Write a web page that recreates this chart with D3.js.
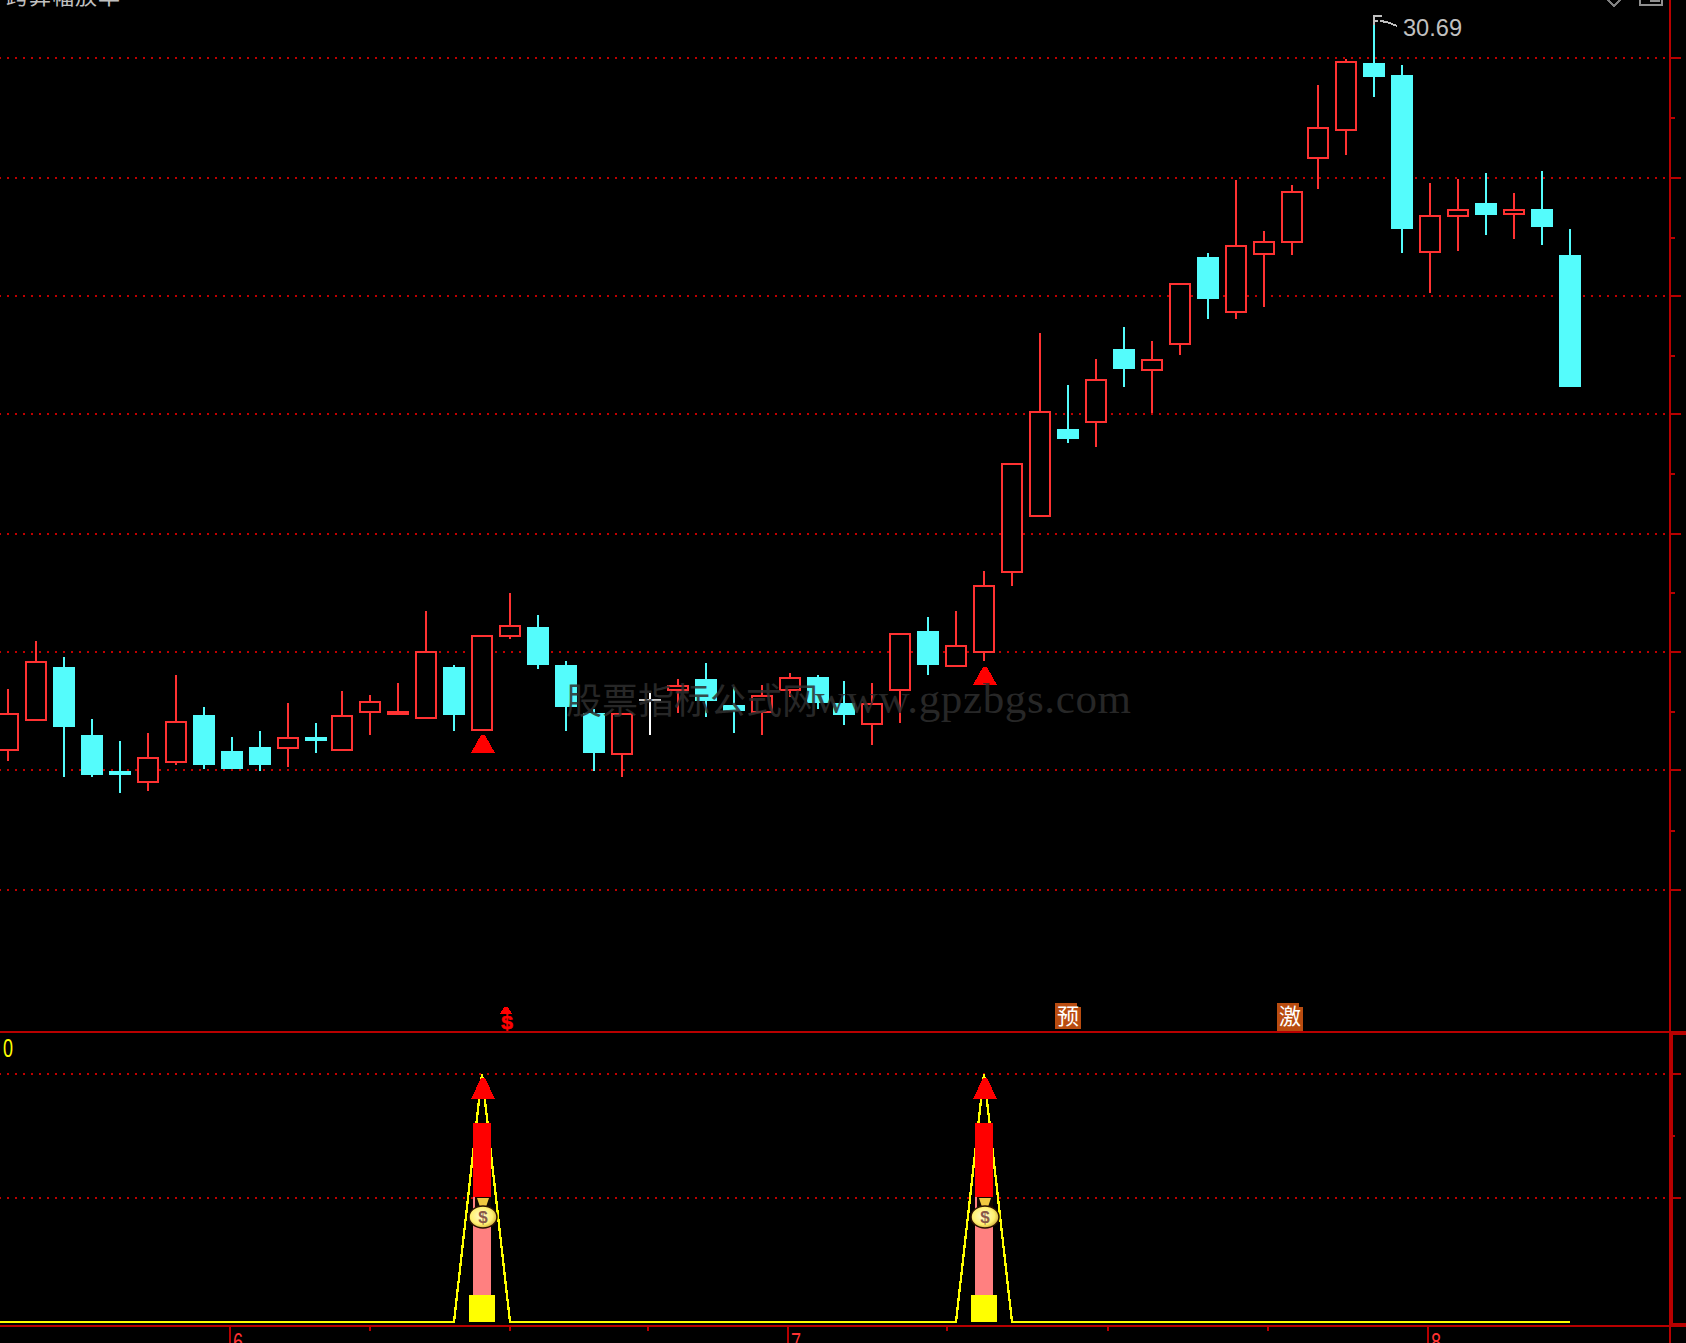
<!DOCTYPE html>
<html><head><meta charset="utf-8">
<script src="https://cdn.jsdelivr.net/npm/d3@7/dist/d3.min.js"></script>
<style>html,body{margin:0;padding:0;background:#000;overflow:hidden}svg{display:block}</style>
</head><body><div id="chart"></div>
<script>
// ---- data ----
const opens =[18.34,18.84,19.75,18.61,18.00,17.80,18.14,18.94,18.34,18.41,18.37,18.57,18.34,18.98,18.94,18.88,19.75,18.68,20.26,20.42,19.79,18.98,18.27,19.21,19.35,19.55,19.11,18.98,19.35,19.58,19.15,18.78,19.35,20.36,19.75,19.99,21.33,22.28,23.76,23.86,25.10,24.73,25.17,26.65,25.71,26.68,26.89,28.30,28.77,29.92,29.71,26.72,27.32,27.56,27.36,27.46,26.68];
const closes=[18.98,19.85,18.74,17.93,17.93,18.24,18.84,18.10,18.04,18.10,18.57,18.51,18.94,19.18,19.01,20.02,18.94,20.29,20.46,19.79,19.08,18.31,18.98,19.18,19.45,19.18,19.01,19.28,19.58,19.15,18.94,19.15,20.32,19.79,20.12,21.13,23.18,24.06,23.59,24.60,24.77,24.93,26.21,25.94,26.85,26.92,27.76,28.84,29.95,29.68,27.12,27.36,27.46,27.36,27.46,27.16,24.46];
const highs =[19.38,20.19,19.92,18.88,18.51,18.64,19.62,19.08,18.57,18.68,19.15,18.81,19.35,19.28,19.48,20.69,19.79,20.29,21.00,20.63,19.85,19.05,18.98,19.31,19.55,19.82,19.42,19.45,19.65,19.62,19.52,19.48,20.32,20.59,20.69,21.37,23.18,25.37,24.50,24.93,25.47,25.24,26.21,26.72,27.95,27.09,27.86,29.55,29.98,30.69,29.88,27.90,27.96,28.06,27.73,28.10,27.12];
const lows  =[18.17,18.84,17.90,17.90,17.63,17.67,18.10,18.04,18.04,18.00,18.07,18.31,18.34,18.61,18.94,18.88,18.68,18.68,20.22,19.72,18.68,18.00,17.90,18.61,18.98,18.91,18.64,18.61,19.25,19.05,18.78,18.44,18.81,19.62,19.75,19.85,21.12,22.28,23.52,23.45,24.46,24.03,25.00,25.61,25.61,25.81,26.68,27.80,28.37,29.34,26.72,26.05,26.75,27.02,26.95,26.85,24.46];
const dojiIndex = [23];
const priceGrid = [30,27.98,26,24.01,21.99,20,18.02,16];
const priceMinor = [28.99,26.97,24.99,23,21,19,17];
const buyIndex = [17,35];
const buyPrice = [18.61,19.75];
const indicatorStart = -1;
const indicator = [0,0,0,0,0,0,0,0,0,0,0,0,0,0,0,0,0,0,2,0,0,0,0,0,0,0,0,0,0,0,0,0,0,0,0,0,2,0,0,0,0,0,0,0,0,0,0,0,0,0,0,0,0,0,0,0,0,0];
const indGrid = [2,1];
const indMinor = [1.5];
const yellowTop = 0.22, pinkTop = 1.01, redTop = 1.605, bagLevel = 0.85, arrowTop = 1.97, arrowBase = 1.80;
const monthTicks = [7.93,27.93,50.93];
const monthLabels = ["6","7","8"];
const dayTicks = [13,18,22.93,33.68,39.43,45.14];
const badgeIndex = [38,46];
const badgeText = ["预","激"];
const title = "跨算幅放率";
const peakLabel = "30.69";
const indLabel = "0";
const watermarkCn = "股票指标公式网";
const watermarkEn = "www.gpzbgs.com";

// ---- colours ----
const RED="#ff3232", CYAN="#54fcfc", FRAME="#b80000", DOT="#c00000", GREY="#c0c0c0";

const W=1686,H=1343;
const svg=d3.select("#chart").append("svg").attr("width",W).attr("height",H).style("background","#000");
const crisp=s=>s.attr("shape-rendering","crispEdges");

const x=d3.scaleLinear().domain([0,11,12,29,30,46,47,56]).range([8,316,342,818,844,1292,1318,1570]);
const y=d3.scaleLinear().domain([16,30]).range([890,58]);
const yInd=d3.scaleLinear().domain([0,2]).range([1322,1074]);
const Y=v=>Math.round(y(v));
const YI=v=>Math.round(yInd(v));

// ---- grid ----
function dots(vals,scale){
  crisp(svg.append("g").selectAll("line").data(vals).join("line")
    .attr("x1",-1).attr("x2",1667).attr("y1",d=>Math.round(scale(d))).attr("y2",d=>Math.round(scale(d)))
    .attr("stroke",DOT).attr("stroke-width",2).attr("stroke-dasharray","2 6"));
}
dots(priceGrid,y);
dots(indGrid,yInd);

// ---- right axes ----
function rightAxis(vals,scale,len){
  const ax=d3.axisRight(scale).tickValues(vals).tickSize(len).tickSizeOuter(0).tickFormat("").offset(0);
  const g=svg.append("g").attr("transform","translate(1671,0)").call(ax);
  g.select(".domain").remove();
  g.selectAll(".tick").attr("transform",d=>`translate(0,${Math.round(scale(d))})`);
  crisp(g.selectAll("line").attr("stroke",FRAME).attr("stroke-width",2));
}
rightAxis(priceGrid,y,10);
rightAxis(priceMinor,y,4);
rightAxis(indGrid,yInd,10);
rightAxis(indMinor,yInd,4);

// ---- frame ----
function frame(x0,y0,w,h){crisp(svg.append("rect").attr("x",x0).attr("y",y0).attr("width",w).attr("height",h).attr("fill",FRAME));}
frame(1669,0,2,H);
frame(0,1031,W,2);
frame(1669,1031,W-1669,4);
frame(1669,1031,4,296);
frame(0,1325,W,2);
frame(1669,1323,W-1669,4);

// ---- time axis ----
function timeAxis(vals,len,fmt){
  const ax=d3.axisBottom(x).tickValues(vals).tickSize(len).tickSizeOuter(0).offset(0).tickFormat(fmt);
  const g=svg.append("g").attr("transform","translate(0,1327)").call(ax);
  g.select(".domain").remove();
  crisp(g.selectAll("line").attr("stroke",FRAME).attr("stroke-width",2));
  return g;
}
timeAxis(dayTicks,4,"");
const tg=timeAxis(monthTicks,16,(d,i)=>monthLabels[i]);
tg.selectAll("text").attr("y",0).attr("dy",0)
  .attr("transform","translate(8,24)")
  .attr("text-anchor","middle").attr("fill",RED)
  .attr("font-family","Liberation Sans").attr("font-size",25)
  .attr("textLength",10).attr("lengthAdjust","spacingAndGlyphs");

// ---- candles ----
const idx=d3.range(opens.length);
const up=i=>closes[i]>=opens[i];
const colour=i=>dojiIndex.includes(i)?"#fff":up(i)?RED:CYAN;
const wicks=svg.append("g");
crisp(wicks.selectAll("rect").data(idx).join("rect")
  .attr("x",i=>x(i)-1).attr("width",2)
  .attr("y",i=>Y(highs[i])).attr("height",i=>Y(lows[i])-Y(highs[i]))
  .attr("fill",colour));
const bodies=svg.append("g");
crisp(bodies.selectAll("rect").data(idx).join("rect")
  .attr("x",i=>x(i)-(up(i)?10:11)).attr("width",i=>up(i)?20:22)
  .attr("y",i=>{const t=Y(Math.max(opens[i],closes[i]));return up(i)?t+1:t;})
  .attr("height",i=>{const h=Y(Math.min(opens[i],closes[i]))-Y(Math.max(opens[i],closes[i]));return up(i)?Math.max(h-2,1):h;})
  .attr("fill",i=>dojiIndex.includes(i)?GREY:up(i)?"#000":CYAN)
  .attr("stroke",i=>dojiIndex.includes(i)?"none":up(i)?RED:"none")
  .attr("stroke-width",2));

// ---- buy arrows on price pane ----
function tri(cx,top,base,half){
  const p=d3.path();p.moveTo(cx-2,top);p.lineTo(cx+2,top);p.lineTo(cx+half,base);p.lineTo(cx-half,base);p.closePath();return p.toString();
}
crisp(svg.append("g").selectAll("path").data(buyIndex).join("path")
  .attr("d",(d,k)=>tri(x(d)+1,Y(buyPrice[k]),Y(buyPrice[k])+18,12)).attr("fill","#ff0000"));

// ---- flag and peak label ----
const pk=highs.indexOf(d3.max(highs));
const fx=x(pk);
const flag=svg.append("g").attr("stroke",GREY).attr("fill","none").attr("stroke-width",2);
crisp(flag.append("path").attr("d",`M${fx},${Y(highs[pk])-2}V${Y(highs[pk])+8}`));
crisp(flag.append("path").attr("d",`M${fx},${Y(highs[pk])-1}h8M${fx},${Y(highs[pk])+4}h4M${fx+6},${Y(highs[pk])+4}l7,1l10,4`));
svg.append("text").attr("x",fx+29).attr("y",Y(highs[pk])+19).attr("fill",GREY)
  .attr("font-family","Liberation Sans").attr("font-size",23).attr("textLength",59).attr("lengthAdjust","spacingAndGlyphs").text(peakLabel);

// ---- signal marks above the separator ----
const s0=buyIndex[0]+1;
crisp(svg.append("path").attr("d",tri(x(s0)-4,1007,1014,6)).attr("fill","#ff0000"));
svg.append("text").attr("x",x(s0)-3).attr("y",1029).attr("text-anchor","middle").attr("fill","#ff0000").attr("stroke","#ff0000").attr("stroke-width",0.6)
  .attr("font-family","Liberation Mono").attr("font-weight","bold").attr("font-size",21).text("$");
const badges=svg.append("g").selectAll("g").data(badgeIndex).join("g");
crisp(badges.append("path").attr("d",(d,k)=>{const c=x(d)-k*2;return `M${c-13},1003H${c+9}V1007H${c+13}V${k?1031:1029}H${c-13}Z`;}).attr("fill","#b94c10"));
badges.append("text").attr("x",(d,k)=>x(d)-k*2).attr("y",1024).attr("text-anchor","middle").attr("fill","#fff")
  .attr("font-family","Noto Sans CJK SC").attr("font-size",22).text((d,k)=>badgeText[k]);

// ---- indicator pane ----
const line=d3.line().x((d,k)=>x(k+indicatorStart)).y(d=>yInd(d));
crisp(svg.append("path").datum(indicator).attr("d",line).attr("fill","none").attr("stroke","#ffff00").attr("stroke-width",2.3));
function bars(lo,hi,half,fill){
  crisp(svg.append("g").selectAll("rect").data(buyIndex).join("rect")
    .attr("x",d=>x(d)-half).attr("width",half*2)
    .attr("y",YI(hi)).attr("height",YI(lo)-YI(hi)).attr("fill",fill));
}
bars(0,yellowTop,13,"#ffff00");
bars(yellowTop,pinkTop,9,"#ff8080");
bars(pinkTop,redTop,9,"#ff0000");
crisp(svg.append("g").selectAll("path").data(buyIndex).join("path")
  .attr("d",d=>tri(x(d)+1,YI(arrowTop),YI(arrowBase),12)).attr("fill","#ff0000"));

// money bag
const defs=svg.append("defs");
const gr=defs.append("radialGradient").attr("id","bag").attr("cx","45%").attr("cy","45%").attr("r","60%");
gr.append("stop").attr("offset","0%").attr("stop-color","#fffad0");
gr.append("stop").attr("offset","65%").attr("stop-color","#fff070");
gr.append("stop").attr("offset","100%").attr("stop-color","#c8a030");
const bag=svg.append("g").selectAll("g").data(buyIndex).join("g")
  .attr("transform",d=>`translate(${x(d)+1},${YI(bagLevel)})`);
bag.append("rect").attr("x",-8).attr("y",-20).attr("width",16).attr("height",10).attr("fill","#100800");
bag.append("path").attr("d","M-6,-19H6L3,-10H-3Z").attr("fill","#f0c840");
bag.append("ellipse").attr("cx",0).attr("cy",0).attr("rx",14).attr("ry",11).attr("fill","url(#bag)").attr("stroke","#2a1000").attr("stroke-width",1.5);
bag.append("text").attr("x",0).attr("y",6).attr("text-anchor","middle").attr("fill","#8a5a48")
  .attr("font-family","Liberation Sans").attr("font-weight","bold").attr("font-size",17).text("$");

svg.append("text").attr("x",3).attr("y",1056.5).attr("fill","#ffff00")
  .attr("font-family","Liberation Sans").attr("font-size",25).attr("textLength",10).attr("lengthAdjust","spacingAndGlyphs").text(indLabel);

// ---- title and clipped top icons ----
svg.append("text").attr("x",6).attr("y",4).attr("fill",GREY)
  .attr("font-family","Noto Sans CJK SC").attr("font-size",22).attr("textLength",114).text(title);
crisp(svg.append("path").attr("d","M1608,0L1614,6L1620,0").attr("fill","none").attr("stroke","#808080").attr("stroke-width",1.5));
crisp(svg.append("path").attr("d","M1640,-2V5H1662V-2M1650,1H1660").attr("fill","none").attr("stroke","#909090").attr("stroke-width",2));

// ---- watermark ----
const wm=svg.append("g").attr("fill","#2e2e2e").attr("opacity",0.85);
wm.append("text").attr("x",566).attr("y",714).attr("font-family","Noto Sans CJK SC").attr("font-size",36).attr("textLength",252).text(watermarkCn);
wm.append("text").attr("x",815).attr("y",713).attr("font-family","Liberation Serif").attr("font-size",43).attr("textLength",316).text(watermarkEn);
</script></body></html>
